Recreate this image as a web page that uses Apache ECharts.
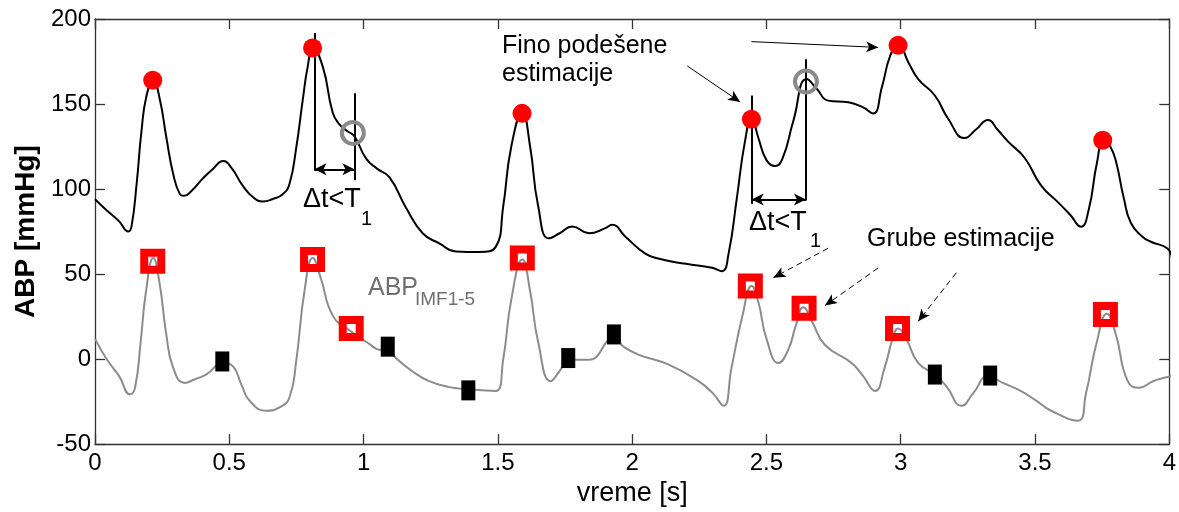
<!DOCTYPE html>
<html>
<head>
<meta charset="utf-8">
<script src="https://cdn.jsdelivr.net/npm/echarts@6/dist/echarts.min.js"></script>
<style>
  html, body { margin: 0; padding: 0; background: #fff; }
  #chart { width: 1179px; height: 512px; }
</style>
</head>
<body>
<div id="chart"></div>
<script>
// ABP signal (black)
var abpTime = [0, 0.04, 0.09, 0.124, 0.136, 0.155, 0.173, 0.192, 0.217, 0.241, 0.266, 0.291, 0.316, 0.331,
  0.36, 0.40, 0.44, 0.477, 0.51, 0.55, 0.59, 0.625, 0.66, 0.699, 0.724, 0.749, 0.774, 0.792, 0.811,
  0.848, 0.885, 0.91, 0.94, 0.966, 1.009, 1.05, 1.096, 1.158, 1.22, 1.282, 1.344, 1.43, 1.492,
  1.52, 1.55, 1.591, 1.62, 1.65, 1.69, 1.73, 1.777, 1.839, 1.90, 1.925, 1.975, 2.049, 2.10, 2.20,
  2.297, 2.334, 2.359, 2.39, 2.42, 2.445, 2.47, 2.50, 2.532, 2.56, 2.60, 2.65, 2.687, 2.73, 2.805,
  2.86, 2.897, 2.93, 2.96, 2.99, 3.03, 3.065, 3.127, 3.176, 3.238, 3.28, 3.325, 3.36, 3.399, 3.461,
  3.523, 3.585, 3.63, 3.671, 3.70, 3.73, 3.756, 3.78, 3.801, 3.83, 3.857, 3.90, 3.931, 3.993, 4.01];
var abpValue = [94, 88, 81, 75, 78, 103, 134, 155, 164, 153, 130, 109, 97, 96,
  99, 106, 112, 116.5, 112, 102, 95, 92.7, 94, 97, 103, 124, 153, 172, 183,
  172, 145, 138, 134, 131, 118, 112, 107, 89, 74, 68, 63.3, 63, 66,
  90, 125, 145, 125, 90, 71, 74, 78, 74, 77, 79, 72, 62, 59, 56,
  53.7, 51.7, 62, 95, 128, 142, 130, 117, 113.6, 118, 140, 164.7, 159, 152, 151,
  148, 144.4, 160, 178, 185, 174, 164.7, 155, 141.5, 130, 135, 140.6, 135, 128, 118.4,
  102, 92.3, 85, 77.8, 88, 115, 129, 125, 116.5, 95, 80, 72, 69, 65, 59];

// ABP IMF1-5 (grey)
var imfTime = [0, 0.043, 0.09, 0.13, 0.149, 0.17, 0.19, 0.217, 0.24, 0.265, 0.291, 0.334, 0.37, 0.415,
  0.477, 0.514, 0.545, 0.576, 0.638, 0.687, 0.724, 0.75, 0.78, 0.811, 0.84, 0.885, 0.947, 1.009,
  1.071, 1.09, 1.12, 1.18, 1.244, 1.32, 1.393, 1.492, 1.52, 1.55, 1.591, 1.62, 1.65, 1.697, 1.73,
  1.764, 1.839, 1.932, 1.97, 2.025, 2.136, 2.247, 2.30, 2.34, 2.37, 2.41, 2.445, 2.47, 2.50, 2.545,
  2.58, 2.61, 2.637, 2.67, 2.718, 2.817, 2.86, 2.904, 2.94, 2.97, 2.99, 3.02, 3.065, 3.127, 3.17,
  3.226, 3.27, 3.325, 3.38, 3.448, 3.50, 3.56, 3.659, 3.69, 3.73, 3.768, 3.80, 3.845, 3.888, 3.94,
  3.981, 4.02];
var imfValue = [12, 0, -10, -20.7, -16.8, 10, 40, 59.4, 45, 15, -5, -14, -12, -9,
  -2.3, -4.3, -15, -24.6, -30.4, -28.4, -22.6, 0, 40, 59.4, 48, 25.7, 17, 10.2,
  5.4, 6, 0.6, -7, -13, -16.5, -17.8, -18.8, 0, 35, 58.5, 40, 10, -13, -7,
  -0.4, -0.4, 12.2, 7, 2.5, -3.3, -13, -20, -27.5, -5, 25, 43, 33.4, 12, -2.3,
  5, 20, 30.5, 22, 8.3, -2.3, -10, -18.8, -5, 12, 18, 12, -2.3, -9.1, -16,
  -27.5, -20, -10.1, -14, -18.8, -24, -30.4, -36.2, -20, 10, 26.7, 15, -13, -16.8, -13,
  -11, -10];

// markers
var fineEst = [[0.215, 164], [0.81, 183], [1.59, 144.5], [2.444, 141], [2.99, 184.5], [3.752, 128.7]];
var rejected = [[0.96, 133], [2.647, 163.2]];
var roughEst = [[0.215, 57.5], [0.81, 58.6], [0.954, 18], [1.591, 59.4], [2.44, 43], [2.64, 29.9], [2.988, 18], [3.762, 26.2]];
var otherExt = [[0.474, -1.4], [1.09, 7.3], [1.39, -18.4], [1.762, 0.6], [1.932, 14.5], [3.127, -9.1], [3.333, -9.7]];

// annotation segments in data units [t1, v1, t2, v2]
var dtBars = [[0.817, 191.8, 0.817, 110.7], [0.966, 156.4, 0.966, 105.2], [2.445, 155, 2.445, 91.3], [2.647, 176.3, 2.647, 93.3]];
var dtArrows = [[0.817, 111.6, 0.966, 111.6], [2.445, 93.9, 2.647, 93.9]];
var fineArrows = [[2.205, 172.4, 2.402, 151.2], [2.444, 186.7, 2.916, 183.3]];
var roughArrows = [[2.73, 65.2, 2.526, 47.9], [2.916, 53.6, 2.718, 31.5], [3.207, 50.8, 3.065, 22.2]];

var xTicks = [0, 4, 0.5];
var yTicks = [-50, 200, 50];

function zip(a, b) {
  return a.map(function (t, i) { return [t, b[i]]; });
}
function segs(list) {
  return list.map(function (s) { return [{ coord: [s[0], s[1]] }, { coord: [s[2], s[3]] }]; });
}

var font = 'Liberation Sans, Arial, sans-serif';
var chart = echarts.init(document.getElementById('chart'));

function axisBase() {
  return {
    type: 'value',
    axisLine: { show: true, onZero: false, lineStyle: { color: '#333', width: 1.3 } },
    axisTick: { show: true, inside: true, length: 10, lineStyle: { color: '#333', width: 1.3 } },
    splitLine: { show: false }
  };
}

function mkMarkLine(list, symbols, style, size) {
  return {
    silent: true,
    animation: false,
    symbol: symbols,
    symbolSize: size || [10, 12],
    label: { show: false },
    emphasis: { disabled: true },
    lineStyle: style,
    data: segs(list)
  };
}

var option = {
  animation: false,
  grid: { left: 95, right: 6, top: 19, bottom: 61 },
  xAxis: [
    Object.assign(axisBase(), {
      min: xTicks[0], max: xTicks[1], interval: xTicks[2], position: 'bottom',
      axisLabel: { color: '#000', fontSize: 24, fontFamily: font, margin: 7 },
      name: 'vreme [s]', nameLocation: 'middle', nameGap: 30,
      nameTextStyle: { color: '#000', fontSize: 27, fontFamily: font }
    }),
    Object.assign(axisBase(), {
      min: xTicks[0], max: xTicks[1], interval: xTicks[2], position: 'top',
      axisLabel: { show: false }
    })
  ],
  yAxis: [
    Object.assign(axisBase(), {
      min: yTicks[0], max: yTicks[1], interval: yTicks[2], position: 'left',
      axisLabel: { color: '#000', fontSize: 24, fontFamily: font, margin: 4 },
      name: 'ABP [mmHg]', nameLocation: 'middle', nameGap: 55,
      nameTextStyle: { color: '#000', fontSize: 28, fontWeight: 'bold', fontFamily: font }
    }),
    Object.assign(axisBase(), {
      min: yTicks[0], max: yTicks[1], interval: yTicks[2], position: 'right',
      axisLabel: { show: false }
    })
  ],
  series: [
    {
      name: 'ABP IMF1-5', type: 'line', data: zip(imfTime, imfValue),
      showSymbol: false, smooth: 0.5,
      lineStyle: { color: '#8c8c8c', width: 2 }, silent: true
    },
    {
      name: 'ABP', type: 'line', data: zip(abpTime, abpValue),
      showSymbol: false, smooth: 0.5,
      lineStyle: { color: '#000', width: 2 }, silent: true,
      markLine: mkMarkLine(dtBars, ['none', 'none'], { color: '#000', width: 2, type: 'solid' })
    },
    {
      type: 'line', data: [], silent: true,
      markLine: mkMarkLine(dtArrows, ['arrow', 'arrow'], { color: '#000', width: 2, type: 'solid' }, [9, 12])
    },
    {
      type: 'line', data: [], silent: true,
      markLine: mkMarkLine(fineArrows, ['none', 'arrow'], { color: '#000', width: 1, type: 'solid' }, [8, 12])
    },
    {
      type: 'line', data: [], silent: true,
      markLine: mkMarkLine(roughArrows, ['none', 'arrow'], { color: '#000', width: 1, type: [6, 4] }, [8, 12])
    },
    {
      type: 'scatter', data: fineEst, symbol: 'circle', symbolSize: 19, silent: true, z: 5,
      itemStyle: { color: '#ff0000', opacity: 1 }
    },
    {
      type: 'scatter', data: rejected, symbol: 'circle', symbolSize: 22, silent: true, z: 5,
      itemStyle: { color: 'rgba(0,0,0,0)', borderColor: '#8a8a8a', borderWidth: 4, opacity: 1 }
    },
    {
      type: 'scatter', data: roughEst, symbol: 'rect', symbolSize: 17, silent: true, z: 5,
      itemStyle: { color: 'rgba(0,0,0,0)', borderColor: '#ff0000', borderWidth: 8, opacity: 1 }
    },
    {
      type: 'scatter', data: otherExt, symbol: 'rect', symbolSize: [14, 20], silent: true, z: 5,
      itemStyle: { color: '#000', opacity: 1 }
    }
  ],
  graphic: [
    { type: 'text', x: 502, y: 46, style: { text: 'Fino podešene', font: '25px ' + font, fill: '#000', verticalAlign: 'middle' } },
    { type: 'text', x: 502, y: 74, style: { text: 'estimacije', font: '25px ' + font, fill: '#000', verticalAlign: 'middle' } },
    { type: 'text', x: 867, y: 239, style: { text: 'Grube estimacije', font: '25px ' + font, fill: '#000', verticalAlign: 'middle' } },
    { type: 'text', x: 303, y: 200, style: { text: 'Δt<T', font: '27px ' + font, fill: '#000', verticalAlign: 'middle' } },
    { type: 'text', x: 361, y: 219, style: { text: '1', font: '20px ' + font, fill: '#000', verticalAlign: 'middle' } },
    { type: 'text', x: 749, y: 223, style: { text: 'Δt<T', font: '27px ' + font, fill: '#000', verticalAlign: 'middle' } },
    { type: 'text', x: 810, y: 241, style: { text: '1', font: '20px ' + font, fill: '#000', verticalAlign: 'middle' } },
    { type: 'text', x: 368, y: 288, style: { text: 'ABP', font: '25px ' + font, fill: '#707070', verticalAlign: 'middle' } },
    { type: 'text', x: 415, y: 300, style: { text: 'IMF1-5', font: '19px ' + font, fill: '#707070', verticalAlign: 'middle' } }
  ]
};

chart.setOption(option);
window.addEventListener('resize', chart.resize);
</script>
</body>
</html>
